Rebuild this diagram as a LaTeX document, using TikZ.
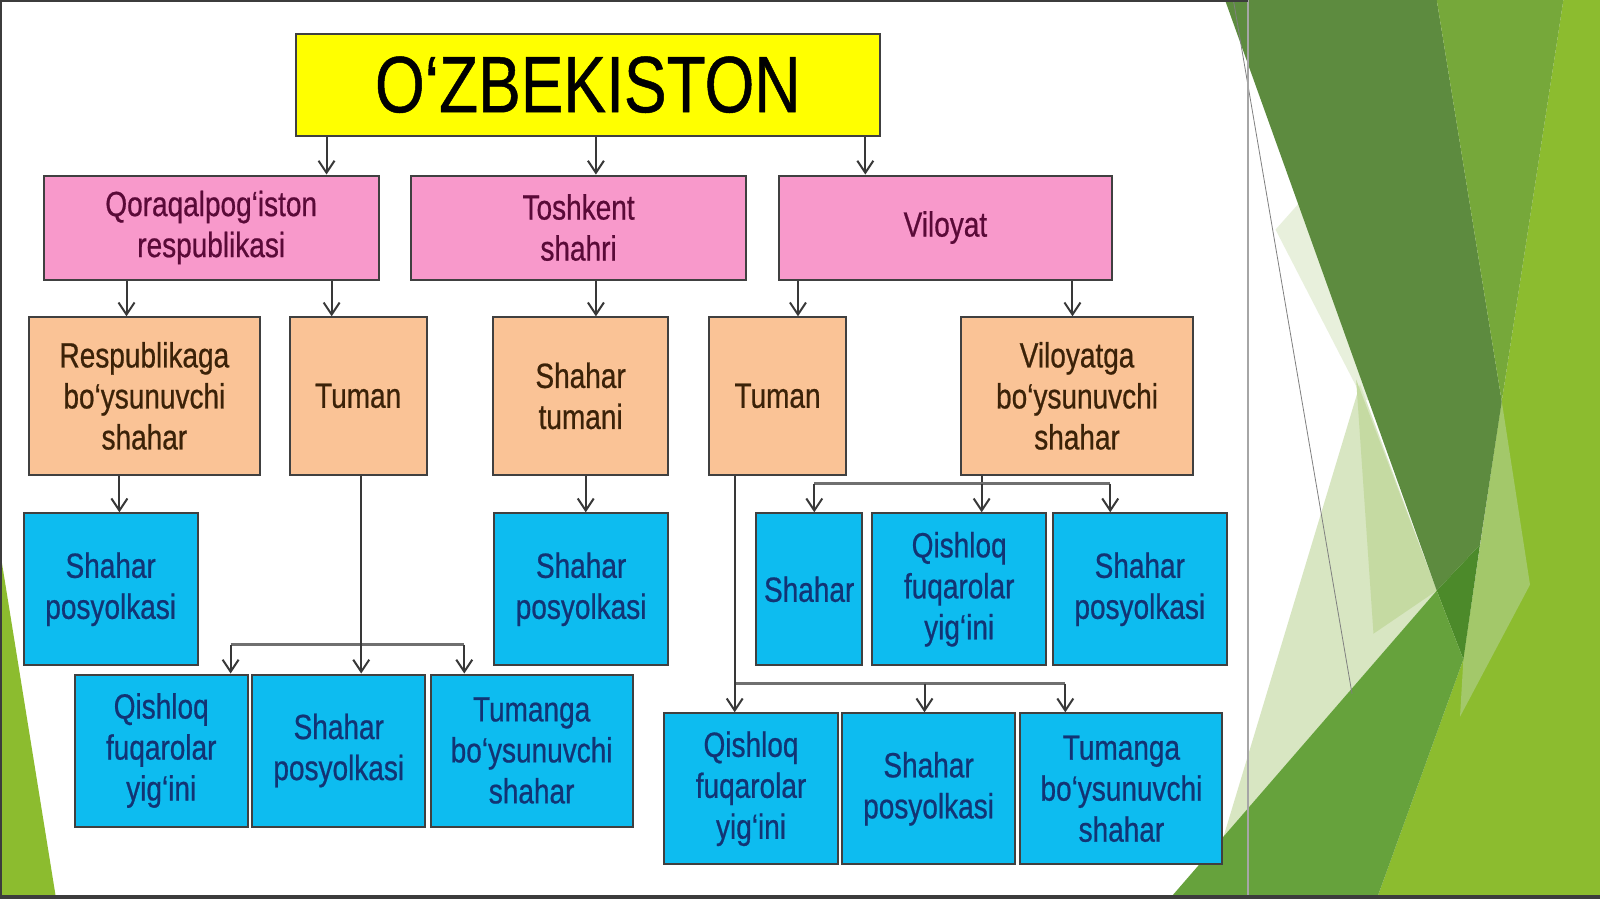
\documentclass[tikz,border=0pt]{standalone}
\usepackage{fontspec}
\setmainfont{Liberation Sans}[FakeStretch=0.8, FakeBold=0.6]
\usetikzlibrary{arrows.meta}
\definecolor{titleyellow}{HTML}{FFFF00}
\definecolor{regpink}{HTML}{F899CB}
\definecolor{unitorange}{HTML}{FAC396}
\definecolor{leafblue}{HTML}{0DBCF0}
\definecolor{regtext}{HTML}{5A0A38}
\definecolor{unittext}{HTML}{3B2208}
\definecolor{leaftext}{HTML}{123474}
\definecolor{boxline}{HTML}{404040}
\definecolor{linegray}{HTML}{383838}
\definecolor{branchgray}{HTML}{707070}
\definecolor{framegray}{HTML}{3C3C3C}
\definecolor{leafdark}{HTML}{5D8B3F}
\definecolor{leafmid}{HTML}{76A83A}
\definecolor{leaflime}{HTML}{8CBC2F}
\definecolor{leafband}{HTML}{66A23C}
\definecolor{leafdeep}{HTML}{4C8A2A}
\definecolor{leafsoft}{HTML}{A3C86A}
\definecolor{palestrip}{HTML}{E8F0DC}
\definecolor{paleone}{HTML}{D8E6C2}
\definecolor{paletwo}{HTML}{C5DAA2}
\tikzset{
  box/.style={draw=boxline, line width=1pt, inner sep=0pt, align=center,
    font=\fontsize{17.5}{20.5}\selectfont},
  titlebox/.style={box, fill=titleyellow, text=black,
    font=\fontsize{40}{44}\selectfont},
  regbox/.style={box, fill=regpink, text=regtext, minimum height=52pt},
  unitbox/.style={box, fill=unitorange, text=unittext, minimum height=78.6pt},
  leafbox/.style={box, fill=leafblue, text=leaftext},
  arr/.style={draw=linegray, line width=1pt,
    -{Straight Barb[length=6pt,width=8pt]}},
  branch/.style={draw=branchgray, line width=1.5pt}
}
\begin{document}
\begin{tikzpicture}[x=0.5102pt, y=-0.5102pt]
  \useasboundingbox (0,0) rectangle (1568,881);
  \fill[white] (0,0) rectangle (1568,881);
  % green facets
  \fill[leaflime] (1532.1,0) -- (1568,0) -- (1568,881) -- (1349.2,881) -- (1434.1,646.2) -- (1471.7,393.3) -- cycle;
  \fill[leafsoft] (1471.7,393.3) -- (1499.4,573) -- (1430.8,702.4) -- (1434.1,646.2) -- cycle;
  \fill[palestrip] (1250,225) -- (1336,392) -- (1360,392) -- (1290,180) -- cycle;
  \fill[paleone] (1332.8,376.5) -- (1408,578.8) -- (1198.9,820.4) -- cycle;
  \fill[paletwo] (1329,372) -- (1408,578.8) -- (1346,621) -- cycle;
  \fill[leafdark] (1200.5,0) -- (1408,0) -- (1471.7,393.3) -- (1450.4,533.8) -- (1408,578.8) -- cycle;
  \fill[leafmid] (1408,0) -- (1532.1,0) -- (1471.7,393.3) -- cycle;
  \fill[leafdeep] (1408,578.8) -- (1450.4,533.8) -- (1434.1,646.2) -- cycle;
  \fill[leafband] (1146,881) -- (1408,578.8) -- (1434.1,646.2) -- (1349.2,881) -- cycle;
  \fill[leaflime] (0,540) -- (55,881) -- (0,881) -- cycle;
  \draw[gray, line width=0.4pt] (1208.7,0) -- (1325,680);
  \draw[gray!70, line width=0.8pt] (1223,0) -- (1223,881);
  % frame
  \fill[framegray] (0,0) rectangle (1223,2);
  \fill[framegray] (0,0) rectangle (2,881);
  \fill[framegray] (0,877) rectangle (1568,881);
  % boxes
  \node[titlebox, minimum width=291.8pt, minimum height=51pt] (T) at (576,83) {O‘ZBEKISTON};
  \node[regbox, minimum width=167.3pt] (kar) at (207,223) {Qoraqalpog‘iston\\respublikasi};
  \node[regbox, minimum width=167.3pt] (tosh) at (567,223) {Toshkent\\shahri};
  \node[regbox, minimum width=166.8pt] (vil) at (926.5,223) {Viloyat};
  \node[unitbox, minimum width=115.8pt] (rbs) at (141.5,388) {Respublikaga\\bo‘ysunuvchi\\shahar};
  \node[unitbox, minimum width=68.4pt] (tum1) at (351,388) {Tuman};
  \node[unitbox, minimum width=87.8pt] (shtum) at (569,388) {Shahar\\tumani};
  \node[unitbox, minimum width=68.4pt] (tum2) at (762,388) {Tuman};
  \node[unitbox, minimum width=115.8pt] (vbs) at (1055.5,388) {Viloyatga\\bo‘ysunuvchi\\shahar};
  \node[leafbox, minimum width=87.2pt, minimum height=76pt] (pos1) at (108.5,577.5) {Shahar\\posyolkasi};
  \node[leafbox, minimum width=87.2pt, minimum height=76pt] (pos3) at (569.5,577.5) {Shahar\\posyolkasi};
  \node[leafbox, minimum width=53.1pt, minimum height=76pt] (sh) at (793,577.5) {Shahar};
  \node[leafbox, minimum width=86.7pt, minimum height=76pt] (qfy3) at (940,577.5) {Qishloq\\fuqarolar\\yig‘ini};
  \node[leafbox, minimum width=86.7pt, minimum height=76pt] (pos5) at (1117,577.5) {Shahar\\posyolkasi};
  \node[leafbox, minimum width=86.7pt, minimum height=76pt] (qfy1) at (158,735.5) {Qishloq\\fuqarolar\\yig‘ini};
  \node[leafbox, minimum width=86.7pt, minimum height=76pt] (pos2) at (332,735.5) {Shahar\\posyolkasi};
  \node[leafbox, minimum width=101pt, minimum height=76pt] (tbs1) at (521,735.5) {Tumanga\\bo‘ysunuvchi\\shahar};
  \node[leafbox, minimum width=86.7pt, minimum height=75.5pt] (qfy2) at (736,773) {Qishloq\\fuqarolar\\yig‘ini};
  \node[leafbox, minimum width=86.7pt, minimum height=75.5pt] (pos4) at (910,773) {Shahar\\posyolkasi};
  \node[leafbox, minimum width=101pt, minimum height=75.5pt] (tbs2) at (1099,773) {Tumanga\\bo‘ysunuvchi\\shahar};
  % branch points
  \coordinate (tbL) at (226,632);
  \coordinate (tbR) at (455,632);
  \coordinate (vbL) at (798,474);
  \coordinate (vbM) at (962,474);
  \coordinate (vbR) at (1088,474);
  \coordinate (rbL) at (720,670);
  \coordinate (rbM) at (906,670);
  \coordinate (rbR) at (1044,670);
  % connectors
  \draw[arr] (320,0 |- T.south) -- (320,0 |- kar.north);
  \draw[arr] (584,0 |- T.south) -- (584,0 |- tosh.north);
  \draw[arr] (848,0 |- T.south) -- (848,0 |- vil.north);
  \draw[arr] (124,0 |- kar.south) -- (124,0 |- rbs.north);
  \draw[arr] (325,0 |- kar.south) -- (325,0 |- tum1.north);
  \draw[arr] (584,0 |- tosh.south) -- (584,0 |- shtum.north);
  \draw[arr] (782,0 |- vil.south) -- (782,0 |- tum2.north);
  \draw[arr] (1051,0 |- vil.south) -- (1051,0 |- vbs.north);
  \draw[arr] (117,0 |- rbs.south) -- (117,0 |- pos1.north);
  \draw[arr] (574,0 |- shtum.south) -- (574,0 |- pos3.north);
  \draw[linegray, line width=1pt] (vbM |- vbs.south) -- (vbM);
  \draw[branch] (vbL) -- (vbR);
  \draw[arr] (vbL) -- (vbL |- sh.north);
  \draw[arr] (vbM) -- (vbM |- qfy3.north);
  \draw[arr] (vbR) -- (vbR |- pos5.north);
  \draw[branch] (tbL) -- (tbR);
  \draw[arr] (354,0 |- tum1.south) -- (354,0 |- pos2.north);
  \draw[arr] (tbL) -- (tbL |- qfy1.north);
  \draw[arr] (tbR) -- (tbR |- tbs1.north);
  \draw[branch] (rbL) -- (rbR);
  \draw[arr] (720,0 |- tum2.south) -- (720,0 |- qfy2.north);
  \draw[arr] (rbM) -- (rbM |- pos4.north);
  \draw[arr] (rbR) -- (rbR |- tbs2.north);
\end{tikzpicture}
\end{document}
